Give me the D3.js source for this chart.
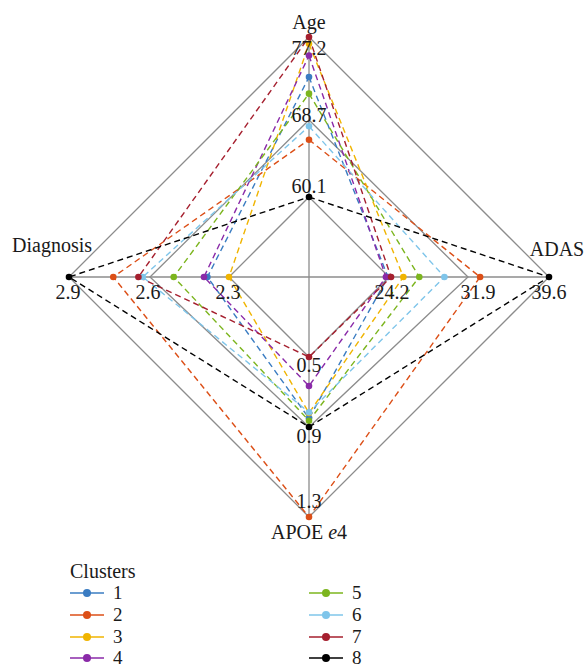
<!DOCTYPE html>
<html>
<head>
<meta charset="utf-8">
<script src="https://cdn.jsdelivr.net/npm/d3@7"></script>
<style>
  html, body { margin: 0; padding: 0; background: #fff; }
  svg { display: block; }
  text { font-family: "Liberation Serif", "DejaVu Serif", serif; fill: #1a1a1a; }
</style>
</head>
<body>
<svg id="chart" width="584" height="667"></svg>
<script>
// Radar axes: top, right, bottom, left
const axes = ["Age", "ADAS", "APOE e4", "Diagnosis"];
// Ring tick values per axis (inner, middle, outer)
const ageTicks = [60.1, 68.7, 77.2];
const adasTicks = [24.2, 31.9, 39.6];
const apoeTicks = [0.5, 0.9, 1.3];
const diagTicks = [2.3, 2.6, 2.9];

// Cluster profiles
const clusters = ["1", "2", "3", "4", "5", "6", "7", "8"];
const ageValues  = [73.1, 66.5, 76.5, 75.3, 71.4, 68.0, 77.2, 60.1];
const adasValues = [24.1, 33.05, 25.6, 23.9, 27.15, 29.6, 24.4, 39.6];
const apoeValues = [0.85, 1.3, 0.82, 0.666, 0.864, 0.816, 0.5, 0.9];
const diagValues = [2.382, 2.736, 2.3, 2.395, 2.51, 2.627, 2.643, 2.9];
const colors = ["#3a7cc2", "#dc4f17", "#f0b400", "#8a2aa8", "#7cb51e", "#7fc5ea", "#a51f2e", "#000000"];

const cx = 309, cy = 277;
const rInner = 80, rOuter = 240;
// middle ring radius differs slightly per axis
const rMid = [157, 159, 150, 159];
const angles = [-Math.PI / 2, 0, Math.PI / 2, Math.PI];
const tickSets = [ageTicks, adasTicks, apoeTicks, diagTicks];
const valueSets = [ageValues, adasValues, apoeValues, diagValues];

// piecewise radial scale for each axis
const scales = tickSets.map((t, i) => {
  const origin = t[0] - (t[1] - t[0]) * rInner / (rMid[i] - rInner);
  return d3.scaleLinear().domain([origin, t[0], t[1], t[2]]).range([0, rInner, rMid[i], rOuter]);
});
const pt = (axis, v) => {
  const r = scales[axis](v);
  return [cx + r * Math.cos(angles[axis]), cy + r * Math.sin(angles[axis])];
};

const svg = d3.select("#chart");
const grid = svg.append("g");

// axis spokes
axes.forEach((a, i) => {
  const [x, y] = pt(i, tickSets[i][2]);
  grid.append("line").attr("x1", cx).attr("y1", cy).attr("x2", x).attr("y2", y)
    .attr("stroke", "#8c8c8c").attr("stroke-width", 1.3);
});
// rings
const line = d3.line().curve(d3.curveLinearClosed);
[0, 1, 2].forEach(k => {
  grid.append("path")
    .attr("d", line(axes.map((a, i) => pt(i, tickSets[i][k]))))
    .attr("fill", "none").attr("stroke", "#8c8c8c").attr("stroke-width", 1.3);
});

// cluster polygons
const series = svg.append("g");
clusters.forEach((c, j) => {
  const pts = axes.map((a, i) => pt(i, valueSets[i][j]));
  series.append("path")
    .attr("d", line(pts))
    .attr("fill", "none")
    .attr("stroke", colors[j])
    .attr("stroke-width", 1.4)
    .attr("stroke-dasharray", "6,4");
});
clusters.forEach((c, j) => {
  axes.forEach((a, i) => {
    const [x, y] = pt(i, valueSets[i][j]);
    series.append("circle").attr("cx", x).attr("cy", y).attr("r", 3.3).attr("fill", colors[j]);
  });
});

// tick labels
const fs = 20;
const tickLabelPos = [
  // Age (top), inner to outer
  [[cx, 193], [cx, 122], [cx, 55]],
  // ADAS (right)
  [[392, 299], [478, 299], [549, 299]],
  // APOE (bottom)
  [[cx, 372], [cx, 443], [cx, 508]],
  // Diagnosis (left)
  [[228, 299], [148, 299], [68, 299]]
];
const labels = svg.append("g").attr("font-size", fs).attr("text-anchor", "middle");
tickSets.forEach((t, i) => {
  t.forEach((v, k) => {
    const p = tickLabelPos[i][k];
    labels.append("text").attr("x", p[0]).attr("y", p[1]).text(d3.format(".1f")(v));
  });
});

// axis names
labels.append("text").attr("x", cx).attr("y", 29).text("Age");
labels.append("text").attr("x", 557).attr("y", 256).text("ADAS");
labels.append("text").attr("x", 52).attr("y", 252).text("Diagnosis");
const apoe = labels.append("text").attr("x", cx).attr("y", 539);
apoe.append("tspan").text("APOE ");
apoe.append("tspan").attr("font-style", "italic").text("e");
apoe.append("tspan").text("4");

// legend
const legend = svg.append("g").attr("font-size", fs);
legend.append("text").attr("x", 70).attr("y", 578).text("Clusters");
const rowY = [593, 615, 637, 658];
clusters.forEach((c, j) => {
  const col = Math.floor(j / 4), row = j % 4;
  const x0 = col === 0 ? 70 : 309;
  const y = rowY[row];
  legend.append("line").attr("x1", x0).attr("x2", x0 + 34).attr("y1", y).attr("y2", y)
    .attr("stroke", colors[j]).attr("stroke-width", 2).attr("stroke-opacity", 0.75);
  legend.append("circle").attr("cx", x0 + 17).attr("cy", y).attr("r", 4).attr("fill", colors[j]);
  legend.append("text").attr("x", x0 + 43).attr("y", y + 6).attr("font-size", 19).text(c);
});
</script>
</body>
</html>
